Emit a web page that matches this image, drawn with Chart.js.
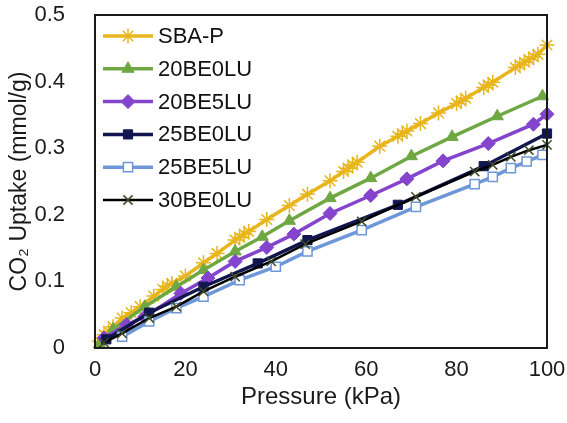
<!DOCTYPE html>
<html>
<head>
<meta charset="utf-8">
<script src="https://cdn.jsdelivr.net/npm/chart.js@4.4.1/dist/chart.umd.min.js"></script>
<style>
  html, body { margin: 0; padding: 0; background: #fff; }
  #uptake { display: block; }
</style>
</head>
<body>
<canvas id="uptake" width="567" height="423"></canvas>
<script>
// series labels, in legend order
const seriesNames = ['SBA-P', '20BE0LU', '20BE5LU', '25BE0LU', '25BE5LU', '30BE0LU'];

// pressure (kPa) / CO2 uptake (mmol/g)
const sbaP_x = [1, 2, 3, 4, 6, 8, 10, 13, 15, 16, 17, 20, 24, 27, 31, 32, 33, 34, 38, 43, 47, 52, 55, 56, 57, 58, 63, 67, 68, 69, 72, 76, 80, 81, 82, 86, 87, 88, 93, 94, 95, 96, 97, 98, 100];
const sbaP_y = [0.010, 0.020, 0.025, 0.032, 0.045, 0.053, 0.062, 0.078, 0.088, 0.093, 0.097, 0.108, 0.128, 0.142, 0.162, 0.166, 0.171, 0.175, 0.193, 0.214, 0.231, 0.251, 0.265, 0.270, 0.275, 0.279, 0.303, 0.318, 0.322, 0.326, 0.337, 0.353, 0.367, 0.371, 0.375, 0.391, 0.395, 0.399, 0.421, 0.425, 0.429, 0.433, 0.437, 0.441, 0.455];

const be20lu0_x = [1, 4, 11, 18, 24, 31, 37, 43, 52, 61, 70, 79, 89, 99];
const be20lu0_y = [0.006, 0.028, 0.062, 0.092, 0.117, 0.145, 0.167, 0.191, 0.225, 0.255, 0.288, 0.317, 0.348, 0.378];

const be20lu5_x = [2, 7, 11, 19, 25, 31, 38, 44, 52, 61, 69, 77, 87, 97, 100];
const be20lu5_y = [0.015, 0.035, 0.047, 0.082, 0.105, 0.130, 0.151, 0.171, 0.202, 0.229, 0.254, 0.281, 0.307, 0.336, 0.351];

const be25lu0_x = [2.5, 12, 24, 36, 47, 67, 86, 100];
const be25lu0_y = [0.013, 0.053, 0.092, 0.127, 0.162, 0.215, 0.273, 0.322];

const be25lu5_x = [6, 12, 18, 24, 32, 40, 47, 59, 71, 84, 88, 92, 95.5, 99];
const be25lu5_y = [0.017, 0.040, 0.060, 0.077, 0.102, 0.122, 0.145, 0.177, 0.212, 0.246, 0.257, 0.270, 0.280, 0.290];

const be30lu0_x = [2, 6, 12, 18, 24, 31, 39, 46.5, 59, 71, 84, 88, 92, 96, 100];
const be30lu0_y = [0.008, 0.022, 0.045, 0.062, 0.085, 0.107, 0.130, 0.156, 0.190, 0.227, 0.265, 0.275, 0.287, 0.297, 0.305];

const xTicks = [0, 20, 40, 60, 80, 100];
const yTicks = [0, 0.1, 0.2, 0.3, 0.4, 0.5];

const FONT = "'Liberation Sans', Arial, sans-serif";

function pts(xs, ys) {
    return xs.map((x, i) => ({ x: x, y: ys[i] }));
}

function series(i, xs, ys, color, style, radius, markerFill, markerEdge, lineWidth, edgeWidth) {
    return {
        label: seriesNames[i],
        data: pts(xs, ys),
        borderColor: color,
        backgroundColor: color,
        borderWidth: lineWidth,
        pointStyle: style,
        pointRadius: radius,
        pointHoverRadius: radius,
        pointBackgroundColor: markerFill,
        pointBorderColor: markerEdge,
        pointBorderWidth: edgeWidth,
        tension: 0,
        clip: false,
        order: 6 - i
    };
}

const datasets = [
    series(0, sbaP_x, sbaP_y, '#e8b51c', 'star', 7.5, '#e8b51c', '#e8b51c', 3.5, 1.5),
    series(1, be20lu0_x, be20lu0_y, '#6fa843', 'triangle', 7, '#6fa843', '#6fa843', 3.5, 1),
    series(2, be20lu5_x, be20lu5_y, '#8444cc', 'rectRot', 7, '#8444cc', '#8444cc', 3.5, 1),
    series(3, be25lu0_x, be25lu0_y, '#121650', 'rect', 6.5, '#121650', '#121650', 3.5, 1),
    series(4, be25lu5_x, be25lu5_y, '#6d97d8', 'rect', 6.5, '#ffffff', '#6d97d8', 3.5, 1.5),
    series(5, be30lu0_x, be30lu0_y, '#000000', 'crossRot', 6.5, '#3d4a24', '#3d4a24', 2.5, 1.5)
];

// box round the plot area
const frame = {
    id: 'frame',
    afterDatasetsDraw(chart) {
        const a = chart.chartArea;
        const ctx = chart.ctx;
        ctx.save();
        ctx.strokeStyle = '#1a1a1a';
        ctx.lineWidth = 2;
        ctx.strokeRect(a.left, a.top, a.right - a.left, a.bottom - a.top);
        ctx.restore();
    }
};

// legend with line + marker like the original
const seriesKey = {
    id: 'seriesKey',
    afterDraw(chart) {
        const ctx = chart.ctx;
        const a = chart.chartArea;
        chart.data.datasets.forEach((ds, i) => {
            const y = a.top + 21 + i * 32.8;
            const x0 = a.left + 8;
            ctx.save();
            ctx.strokeStyle = ds.borderColor;
            ctx.lineWidth = ds.borderWidth;
            ctx.beginPath();
            ctx.moveTo(x0, y);
            ctx.lineTo(x0 + 50, y);
            ctx.stroke();
            ctx.fillStyle = ds.pointBackgroundColor;
            ctx.strokeStyle = ds.pointBorderColor;
            ctx.lineWidth = ds.pointBorderWidth;
            Chart.helpers.drawPoint(ctx, {
                pointStyle: ds.pointStyle,
                radius: ds.pointRadius,
                borderWidth: ds.pointBorderWidth,
                rotation: 0
            }, x0 + 25, y);
            ctx.fillStyle = '#111';
            ctx.font = '22px ' + FONT;
            ctx.textBaseline = 'middle';
            ctx.textAlign = 'left';
            ctx.fillText(ds.label, x0 + 55, y + 1);
            ctx.restore();
        });
    }
};

function noPad(s) {
    s.paddingTop = 0;
    s.paddingBottom = 0;
    s.paddingLeft = 0;
    s.paddingRight = 0;
}

new Chart(document.getElementById('uptake').getContext('2d'), {
    type: 'line',
    data: { datasets: datasets },
    options: {
        responsive: false,
        animation: false,
        layout: { padding: { top: 15, right: 20, left: 0, bottom: 0 } },
        plugins: {
            legend: { display: false },
            tooltip: { enabled: false }
        },
        scales: {
            x: {
                type: 'linear',
                min: 0,
                max: 100,
                afterBuildTicks: s => { s.ticks = xTicks.map(v => ({ value: v })); },
                afterFit: s => { s.height = 75; noPad(s); },
                grid: { display: false, drawTicks: false },
                border: { display: false },
                ticks: { font: { family: FONT, size: 22 }, color: '#1a1a1a', padding: 9, maxRotation: 0 },
                title: {
                    display: true,
                    text: 'Pressure (kPa)',
                    font: { family: FONT, size: 24 },
                    color: '#1a1a1a',
                    padding: { top: 0, bottom: 11 }
                }
            },
            y: {
                type: 'linear',
                min: 0,
                max: 0.5,
                afterBuildTicks: s => { s.ticks = yTicks.map(v => ({ value: v })); },
                afterFit: s => { s.width = 95; noPad(s); },
                grid: { display: false, drawTicks: false },
                border: { display: false },
                ticks: { font: { family: FONT, size: 22 }, color: '#1a1a1a', padding: 30 },
                title: {
                    display: true,
                    text: 'CO₂ Uptake (mmol/g)',
                    font: { family: FONT, size: 23 },
                    color: '#1a1a1a',
                    padding: { top: 6, bottom: 0 }
                }
            }
        }
    },
    plugins: [frame, seriesKey]
});
</script>
</body>
</html>
